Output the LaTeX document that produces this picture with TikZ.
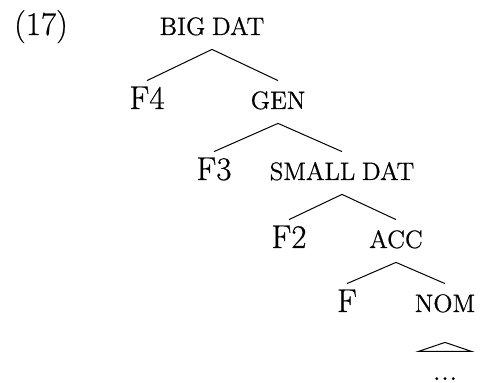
\documentclass[tikz,border=0pt]{standalone}
\usepackage{fontspec}
\setmainfont{Latin Modern Roman}[FakeBold=0.6]
\newcommand\myscfont{\fontsize{12.6}{14}\selectfont\spaceskip=0.26em\relax}
\begin{document}
\begin{tikzpicture}[x=0.5pt,y=-0.5pt,
  lab/.style={anchor=base,inner sep=0pt,font=\fontsize{16.5}{19}\selectfont,text height=11pt,text depth=0pt},
  sc/.style={lab,font=\myscfont},
  br/.style={line width=0.5pt}]
\useasboundingbox (0,0) rectangle (480,383);
\node[lab] (ex) at (41,35) {(17)};
\node[sc] (bigdat) at (212,35) {BIG DAT};
\node[lab] (f4) at (147,109) {F4};
\node[sc] (gen) at (278,109) {GEN};
\node[lab] (f3) at (214,180) {F3};
\node[sc] (smalldat) at (342,180) {SMALL DAT};
\node[lab] (f2) at (289,248) {F2};
\node[sc] (acc) at (396,248) {ACC};
\node[lab] (f) at (347,312) {F};
\node[sc] (nom) at (445,312) {NOM};
\node[lab] (dots) at (445,380) {...};
\draw[br] ([yshift=3pt]f4.north) -- ([yshift=-7pt]bigdat.south) -- ([yshift=3pt]gen.north);
\draw[br] ([yshift=3pt]f3.north) -- ([yshift=-7pt]gen.south) -- ([yshift=3pt]smalldat.north);
\draw[br] ([yshift=3pt]f2.north) -- ([yshift=-7pt]smalldat.south) -- ([yshift=3pt]acc.north);
\draw[br] ([yshift=3pt]f.north) -- ([yshift=-7pt]acc.south) -- ([yshift=3pt]nom.north);
\draw[br] ([yshift=-15pt]nom.south) -- ([xshift=-13.25pt,yshift=-19.5pt]nom.south) -- ([xshift=13.25pt,yshift=-19.5pt]nom.south) -- cycle;
\end{tikzpicture}
\end{document}
